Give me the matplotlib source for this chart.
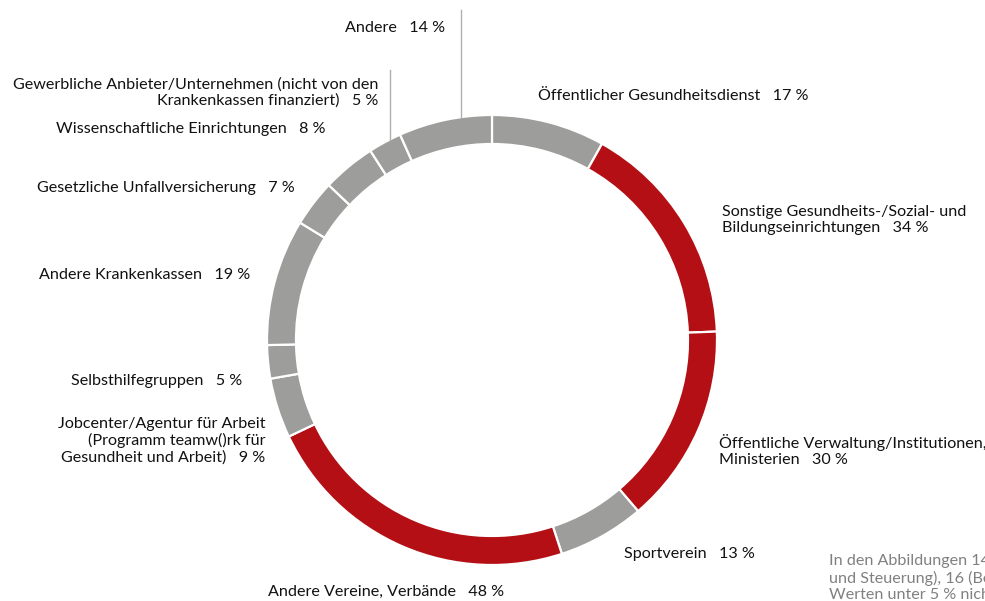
import matplotlib
matplotlib.use('Agg')
import matplotlib.pyplot as plt

# Segment data, clockwise from 12 o'clock
labels = ['Öffentlicher Gesundheitsdienst',
          'Sonstige Gesundheits-/Sozial- und\nBildungseinrichtungen',
          'Öffentliche Verwaltung/Institutionen,\nMinisterien',
          'Sportverein',
          'Andere Vereine, Verbände',
          'Jobcenter/Agentur für Arbeit\n(Programm teamw()rk für\nGesundheit und Arbeit)',
          'Selbsthilfegruppen',
          'Andere Krankenkassen',
          'Gesetzliche Unfallversicherung',
          'Wissenschaftliche Einrichtungen',
          'Gewerbliche Anbieter/Unternehmen (nicht von den\nKrankenkassen finanziert)',
          'Andere']
values = [17, 34, 30, 13, 48, 9, 5, 19, 7, 8, 5, 14]
highlight = [False, True, True, False, True, False, False, False, False, False, False, False]

gray = '#9d9d9c'
red = '#b30f14'
colors = [red if h else gray for h in highlight]

W, H = 985, 601
fig = plt.figure(figsize=(W / 100, H / 100), dpi=100)

# donut geometry in pixels
cx, cy, R, ring = 492, 340, 225, 29
ax = fig.add_axes([(cx - R) / W, (H - cy - R) / H, 2 * R / W, 2 * R / H])
ax.pie(values, colors=colors, startangle=90, counterclock=False, radius=1,
       wedgeprops=dict(width=ring / R, edgecolor='white', linewidth=1.6))
ax.set_xlim(-1, 1)
ax.set_ylim(-1, 1)
ax.set_aspect('equal')
ax.axis('off')

# overlay in pixel coords for labels
ov = fig.add_axes([0, 0, 1, 1], facecolor='none')
ov.set_xlim(0, W)
ov.set_ylim(H, 0)
ov.axis('off')

font = ['Lato', 'DejaVu Sans']
fs = 11.6

# label anchor: (x, center y of first line, ha)
pos = [(538, 95, 'left'),
       (722, 211, 'left'),
       (719, 440, 'left'),
       (624, 553, 'left'),
       (268, 591, 'left'),
       (265, 423, 'right'),
       (242, 380, 'right'),
       (250, 274, 'right'),
       (295, 187, 'right'),
       (325, 128, 'right'),
       (378, 83, 'right'),
       (445, 27, 'right')]

for lab, v, (x, y, ha) in zip(labels, values, pos):
    txt = lab + '   ' + str(v) + ' %'
    ov.text(x, y - 6, txt, ha=ha, va='top', fontsize=fs, family=font,
            linespacing=1.2, color='#111111', multialignment=ha)

# leader lines
ov.plot([461, 461], [10, 117], color='#b0b0b0', lw=1)
ov.plot([390, 390], [70, 140], color='#b0b0b0', lw=1)

# footnote, cut off at the right edge as in the source
ov.text(829, 553, 'In den Abbildungen 14 (Planung\nund Steuerung), 16 (Bedarfsanalyse)\nWerten unter 5 % nicht dargestellt',
        ha='left', va='top', fontsize=fs, family=font, linespacing=1.2,
        color='#808080', clip_on=False)

fig.savefig('out.png', dpi=100)
